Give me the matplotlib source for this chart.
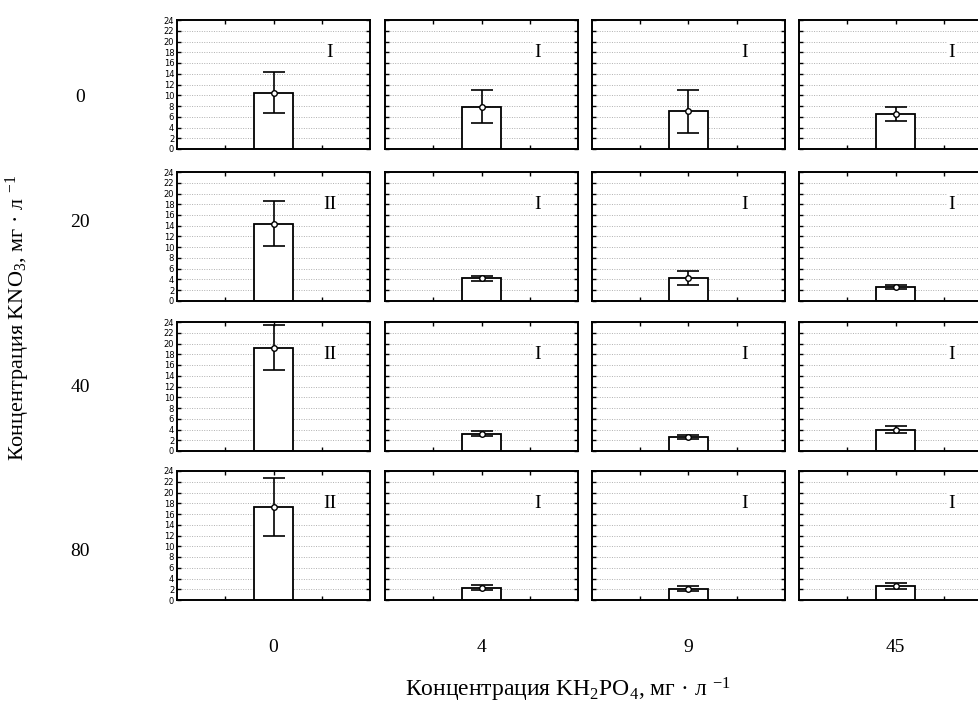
import matplotlib.pyplot as plt

# KNO3 rows, KH2PO4 columns
kno3 = ["0", "20", "40", "80"]
kh2po4 = ["0", "4", "9", "45"]

means = [
    [10.5, 7.9, 7.0, 6.5],
    [14.4, 4.2, 4.2, 2.6],
    [19.2, 3.2, 2.6, 4.0],
    [17.3, 2.3, 2.1, 2.6],
]
errs = [
    [3.8, 3.0, 4.0, 1.3],
    [4.2, 0.4, 1.3, 0.3],
    [4.2, 0.5, 0.3, 0.6],
    [5.4, 0.5, 0.5, 0.5],
]
groups = [
    ["I", "I", "I", "I"],
    ["II", "I", "I", "I"],
    ["II", "I", "I", "I"],
    ["II", "I", "I", "I"],
]
yticks = list(range(0, 25, 2))

plt.rcParams['font.family'] = ['Liberation Serif', 'DejaVu Serif']
plt.rcParams['mathtext.fontset'] = 'custom'
plt.rcParams['mathtext.rm'] = 'Liberation Serif'
plt.rcParams['mathtext.it'] = 'Liberation Serif:italic'

W, H = 979, 704
fig = plt.figure(figsize=(W / 100, H / 100), dpi=100)

col_left = [177, 385, 592, 799]
row_top = [20, 172, 322, 471]
row_lab_y = [97, 222, 388, 552]
aw, ah = 193, 129

for i in range(4):
    for j in range(4):
        ax = fig.add_axes([col_left[j] / W, 1 - (row_top[i] + ah) / H, aw / W, ah / H])
        ax.bar([0], [means[i][j]], width=0.8, color='white', edgecolor='black',
               linewidth=1.3, zorder=2)
        ax.errorbar([0], [means[i][j]], yerr=[errs[i][j]], fmt='o', color='black',
                    mfc='white', mec='black', ms=4, capsize=8, elinewidth=1.2,
                    capthick=1.2, zorder=3)
        ax.set_xlim(-2, 2)
        ax.set_ylim(0, 24)
        ax.set_xticks([-1, 0, 1])
        ax.set_xticklabels([])
        ax.set_yticks(yticks)
        for y in yticks[1:-1]:
            ax.axhline(y, color='#b0b0b0', linestyle=(0, (1, 1.5)), linewidth=0.7, zorder=0)
        ax.tick_params(direction='in', length=3, width=1, top=True, right=True,
                       bottom=True, left=True)
        if j == 0:
            ax.set_yticklabels([str(t) for t in yticks], fontsize=6,
                               family='DejaVu Sans')
            ax.tick_params(axis='y', pad=2)
        else:
            ax.set_yticklabels([])
        for s in ax.spines.values():
            s.set_linewidth(1.4)
        ax.text(0.79, 0.75, groups[i][j], transform=ax.transAxes, ha='center',
                va='center', fontsize=14,
                bbox=dict(facecolor='white', edgecolor='none', pad=1), zorder=4)

for i, lab in enumerate(kno3):
    fig.text(80 / W, 1 - row_lab_y[i] / H, lab, ha='center',
             va='center', fontsize=14)
for j, lab in enumerate(kh2po4):
    fig.text((col_left[j] + aw / 2) / W, 1 - 648 / H, lab, ha='center',
             va='center', fontsize=14)

fig.text(568 / W, 1 - 690 / H, "Концентрация KH$_2$PO$_4$, мг · л $^{-1}$",
         ha='center', va='center', fontsize=17)
fig.text(18 / W, 1 - 318 / H, "Концентрация KNO$_3$, мг · л $^{-1}$",
         ha='center', va='center', rotation=90, fontsize=16)

fig.savefig("out.png", dpi=100)
